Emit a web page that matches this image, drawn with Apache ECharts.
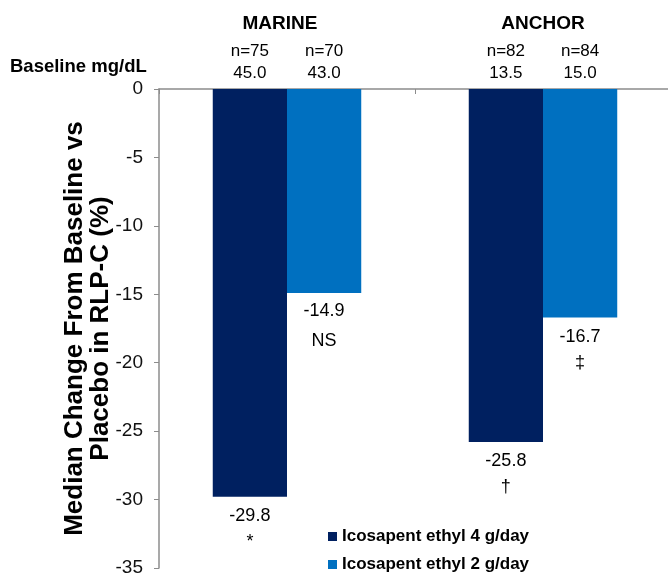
<!DOCTYPE html>
<html>
<head>
<meta charset="utf-8">
<script src="https://cdn.jsdelivr.net/npm/echarts@6/dist/echarts.min.js"></script>
<style>
  html, body { margin: 0; padding: 0; background: #ffffff; }
  #chart { width: 668px; height: 575px; }
</style>
</head>
<body>
<div id="chart"></div>
<script>
// Studies and treatment arms
const studies = ['MARINE', 'ANCHOR'];
const armNames = ['Icosapent ethyl 4 g/day', 'Icosapent ethyl 2 g/day'];

// Median % change from baseline vs placebo in RLP-C
const change4g = [-29.8, -25.8];
const change2g = [-14.9, -16.7];

// Significance markers shown under each value
const sig4g = ['*', '†'];
const sig2g = ['NS', '‡'];

// Sample sizes and baseline values (mg/dL)
const n4g = [75, 82];
const n2g = [70, 84];
const baseline4g = ['45.0', '13.5'];
const baseline2g = ['43.0', '15.0'];

// Value axis range
const yMin = -35, yMax = 0, yStep = 5;

const FONT = '"Liberation Sans", Arial, Helvetica, sans-serif';
const DARK = '#002060';
const LIGHT = '#0070C0';
const AXIS = '#8c8c8c';

const chart = echarts.init(document.getElementById('chart'), null, { renderer: 'canvas' });

function valueLabel(sigs) {
  return {
    show: true,
    position: 'bottom',
    distance: 6,
    color: '#000',
    fontFamily: FONT,
    fontSize: 18,
    lineHeight: 26,
    align: 'center',
    formatter: p => p.value.toFixed(1) + '\n' + sigs[p.dataIndex]
  };
}

// Text markers need a little more room than the symbol glyphs
function barData(values, sigs) {
  return values.map((v, i) => /^[A-Z]+$/.test(sigs[i])
    ? { value: v, label: { lineHeight: 30, distance: 3 } }
    : v);
}

function headerLabel(ns, bases) {
  return {
    show: true,
    position: 'top',
    distance: 5,
    color: '#000',
    fontFamily: FONT,
    fontSize: 17,
    lineHeight: 22,
    formatter: p => 'n=' + ns[p.dataIndex] + '\n' + bases[p.dataIndex]
  };
}

const option = {
  animation: false,
  backgroundColor: '#ffffff',
  textStyle: { fontFamily: FONT },
  grid: { left: 159, top: 89, width: 512, height: 479, containLabel: false, outerBoundsMode: 'none' },
  legend: {
    data: armNames,
    orient: 'vertical',
    left: 328,
    top: 528,
    padding: 0,
    itemWidth: 9,
    itemHeight: 9,
    itemGap: 11,
    icon: 'rect',
    selectedMode: false,
    textStyle: { fontFamily: FONT, fontSize: 17, fontWeight: 'bold', color: '#000', lineHeight: 17 }
  },
  xAxis: [
    {
      type: 'category',
      data: studies,
      position: 'top',
      axisLine: { show: true, lineStyle: { color: AXIS, width: 1.5 } },
      axisTick: { show: true, inside: true, length: 5, lineStyle: { color: AXIS } },
      axisLabel: {
        margin: 56,
        color: '#000',
        fontFamily: FONT,
        fontSize: 19,
        fontWeight: 'bold',
        formatter: v => v === studies[0] ? '{shift|' + v + '}' : '{c|' + v + '}',
        rich: {
          shift: { fontFamily: FONT, fontSize: 19, fontWeight: 'bold', color: '#000', padding: [0, 14, 0, 0] },
          c: { fontFamily: FONT, fontSize: 19, fontWeight: 'bold', color: '#000' }
        }
      },
      splitLine: { show: false }
    },
    {
      type: 'category',
      data: studies,
      position: 'top',
      show: false
    }
  ],
  yAxis: {
    type: 'value',
    min: yMin,
    max: yMax,
    interval: yStep,
    name: 'Median Change From Baseline vs\nPlacebo in RLP-C (%)',
    nameLocation: 'middle',
    nameRotate: 90,
    nameGap: 45,
    nameMoveOverlap: false,
    nameTextStyle: { fontFamily: FONT, fontSize: 26, fontWeight: 'bold', color: '#000', lineHeight: 26 },
    axisLine: { show: true, lineStyle: { color: AXIS, width: 1.5 } },
    axisTick: { show: true, length: 5, lineStyle: { color: AXIS } },
    axisLabel: { margin: 16, color: '#111', fontFamily: FONT, fontSize: 19 },
    splitLine: { show: false }
  },
  series: [
    {
      name: armNames[0],
      type: 'bar',
      data: barData(change4g, sig4g),
      itemStyle: { color: DARK },
      barGap: '0%',
      barCategoryGap: '42%',
      label: valueLabel(sig4g)
    },
    {
      name: armNames[1],
      type: 'bar',
      data: barData(change2g, sig2g),
      itemStyle: { color: LIGHT },
      barGap: '0%',
      barCategoryGap: '42%',
      label: valueLabel(sig2g)
    },
    // Header rows (n and baseline) anchored above each bar at the zero line
    {
      name: 'header4g',
      type: 'bar',
      xAxisIndex: 1,
      data: n4g.map(() => 0),
      itemStyle: { color: 'rgba(0,0,0,0)' },
      barGap: '0%',
      barCategoryGap: '42%',
      label: headerLabel(n4g, baseline4g),
      silent: true
    },
    {
      name: 'header2g',
      type: 'bar',
      xAxisIndex: 1,
      data: n2g.map(() => 0),
      itemStyle: { color: 'rgba(0,0,0,0)' },
      barGap: '0%',
      barCategoryGap: '42%',
      label: headerLabel(n2g, baseline2g),
      silent: true
    }
  ],
  graphic: [
    {
      type: 'text',
      left: 10,
      top: 57,
      style: { text: 'Baseline mg/dL', fontFamily: FONT, fontSize: 18.5, fontWeight: 'bold', fill: '#000' }
    }
  ]
};

chart.setOption(option);
</script>
</body>
</html>
